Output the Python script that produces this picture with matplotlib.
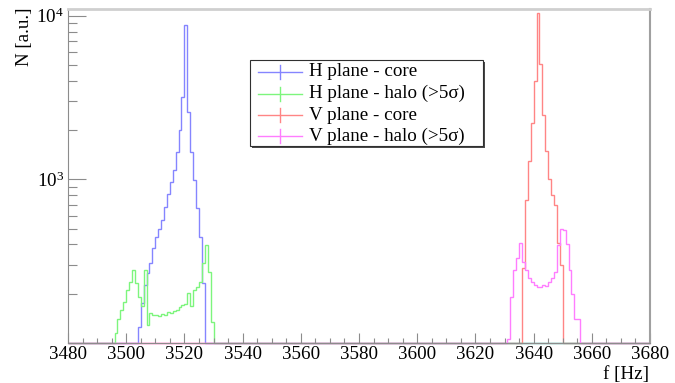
import numpy as np
import matplotlib
matplotlib.use("Agg")
import matplotlib.pyplot as plt
from matplotlib.lines import Line2D
from matplotlib.patches import Rectangle
from matplotlib.ticker import MultipleLocator, FixedLocator, NullFormatter

plt.rcParams["font.family"] = ["Liberation Serif", "DejaVu Serif"]
plt.rcParams["mathtext.fontset"] = "custom"
plt.rcParams["mathtext.rm"] = "Liberation Serif"
plt.rcParams["mathtext.it"] = "Liberation Serif:italic"

# Histogram binning (1 Hz bins)
f_min, f_max = 3480, 3680

# Non-empty bins of each histogram: first bin and counts
h_core_start = 3504
h_core = [125, 175, 226, 266, 307, 379, 442, 499, 564, 674, 813, 967, 1140,
          1476, 2000, 3199, 8800, 2587, 1476, 991, 665, 446, 231]

h_halo_start = 3496
h_halo = [115, 141, 158, 179, 211, 237, 279, 231, 190, 168, 279, 129, 152,
          148, 148, 146, 151, 148, 154, 152, 157, 160, 165, 170, 172, 203,
          168, 211, 221, 237, 307, 396, 273, 134]

v_core_start = 3636
v_core = [286, 750, 1300, 2200, 4000, 10400, 5100, 2470, 1500, 1000, 800,
          697, 408, 299]

v_halo_start = 3631
v_halo = [106, 191, 279, 329, 410, 314, 279, 248, 237, 226, 219, 219, 225,
          222, 237, 248, 273, 396, 500, 488, 405, 279, 200, 141, 141]

labels = ["H plane - core", "H plane - halo (>5\u03c3)",
          "V plane - core", "V plane - halo (>5\u03c3)"]
colors = ["#8585ff", "#7df57d", "#ff8585", "#ff7dff"]

Y_MIN, Y_MAX = 100, 10940

edges = np.arange(f_min, f_max + 1)


def fill(start, vals):
    arr = np.zeros(len(edges) - 1)
    i = start - f_min
    arr[i:i + len(vals)] = vals
    return arr


hists = [fill(h_core_start, h_core), fill(h_halo_start, h_halo),
         fill(v_core_start, v_core), fill(v_halo_start, v_halo)]

fig = plt.figure(figsize=(6.75, 3.83), dpi=100)
W, H = 675.0, 383.0
ax = fig.add_axes([68 / W, 1 - 343 / H, 582 / W, 333.7 / H])
ax.set_yscale("log")

# empty bins sit on the lower edge of the log axis
for idx in [0, 2, 1, 3]:
    h = hists[idx]
    ax.stairs(np.where(h > 0, h, Y_MIN), edges, color=colors[idx],
              lw=1.0, clip_on=False, baseline=None)

ax.set_xlim(f_min, f_max)
ax.set_ylim(Y_MIN, Y_MAX)

ax.xaxis.set_major_locator(MultipleLocator(20))
ax.xaxis.set_minor_locator(MultipleLocator(5))
ax.yaxis.set_major_locator(FixedLocator([1e3, 1e4]))
ax.yaxis.set_minor_locator(FixedLocator(
    [m * 10 ** e for e in (2, 3) for m in range(2, 10)]))
ax.yaxis.set_minor_formatter(NullFormatter())
ax.set_yticklabels([r"$\mathregular{10^{3}}$", r"$\mathregular{10^{4}}$"])

ax.tick_params(axis="x", which="major", direction="in", length=7.2,
               width=0.8, color="#8c8c8c", labelsize=13.7, pad=2.5)
ax.tick_params(axis="x", which="minor", direction="in", length=3.8,
               width=0.8, color="#8c8c8c")
ax.tick_params(axis="y", which="major", direction="in", length=13,
               width=0.8, color="#8c8c8c", labelsize=13.7, pad=3)
ax.tick_params(axis="y", which="minor", direction="in", length=6.5,
               width=0.8, color="#8c8c8c")

ax.spines["left"].set_color("#8c8c8c")
ax.spines["bottom"].set_color("#8c8c8c")
ax.spines["top"].set_color("#cfcfcf")
ax.spines["top"].set_linewidth(2.0)
ax.spines["right"].set_color("#a0a0a0")
ax.spines["right"].set_linewidth(1.5)

fig.text(649 / W, 1 - 374 / H, "f [Hz]", ha="right", va="center",
         fontsize=13.7)
fig.text(25 / W, 1 - 8 / H, "N [a.u.]", ha="center", va="top",
         rotation=90, fontsize=13.7)

# legend box with drop shadow
bx0, by0, bx1, by1 = 250, 60, 483, 146
fig.patches.append(Rectangle(((bx0 + 2) / W, 1 - (by1 + 2) / H),
                             (bx1 - bx0) / W, (by1 - by0) / H,
                             transform=fig.transFigure, facecolor="#4a4a4a",
                             edgecolor="none", zorder=5))
fig.patches.append(Rectangle((bx0 / W, 1 - by1 / H),
                             (bx1 - bx0) / W, (by1 - by0) / H,
                             transform=fig.transFigure, facecolor="white",
                             edgecolor="#303030", lw=0.8, zorder=6))
row_y = [72, 93.5, 115, 136]
for lab, col, yy in zip(labels, colors, row_y):
    yf = 1 - yy / H
    fig.lines.append(Line2D([258 / W, 302 / W], [yf, yf], color=col, lw=1.0,
                            transform=fig.transFigure, zorder=7))
    fig.lines.append(Line2D([280 / W, 280 / W], [yf - 7 / H, yf + 7 / H],
                            color=col, lw=1.0, transform=fig.transFigure,
                            zorder=7))
    fig.text(309 / W, yf, lab, ha="left", va="center", fontsize=13.7,
             zorder=8)

fig.savefig("out.png", dpi=100)
